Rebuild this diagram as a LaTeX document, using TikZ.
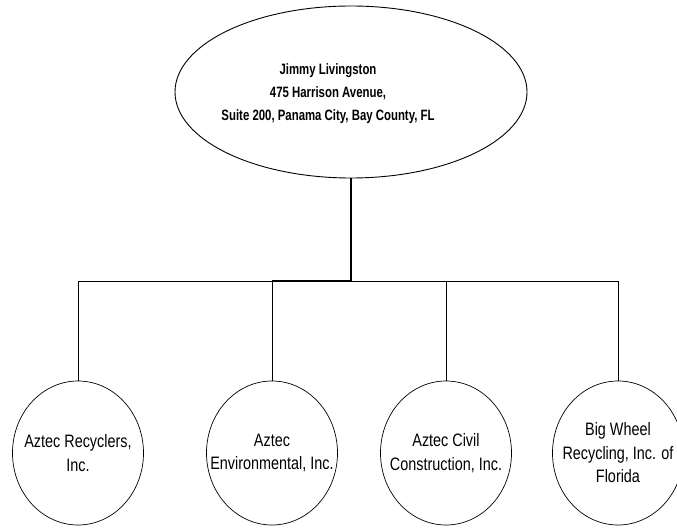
\documentclass[tikz,border=0pt]{standalone}
\usepackage{fontspec}
\setmainfont{Liberation Sans}
\newfontfamily\narrowfont[FakeStretch=0.8]{Liberation Sans}
\newfontfamily\narrowbold[FakeStretch=0.76]{Liberation Sans}
\usepackage{tikz}
\usetikzlibrary{shapes.geometric}

\tikzset{
    owner/.style={draw, ellipse, line width=0.9pt, minimum width=352pt, minimum height=172pt, inner sep=0pt},
    company/.style={draw, ellipse, line width=0.7pt, minimum width=131pt, minimum height=144pt, inner sep=0pt},
    ownertext/.style={align=center, font=\narrowbold\bfseries\fontsize{15}{23}\selectfont},
    companytext/.style={align=center, font=\narrowfont\fontsize{18}{23.5}\selectfont},
    trunk/.style={line width=1.6pt},
    branch/.style={line width=0.8pt}
}

\begin{document}
\begin{tikzpicture}[x=1pt, y=-1pt]
    \useasboundingbox (0,0) rectangle (677,529);

    \node[owner, label={[ownertext, xshift=-23pt, yshift=-2pt]center:{Jimmy Livingston\\475 Harrison Avenue,\\Suite 200, Panama City, Bay County, FL}}] (owner) at (351,92) {};

    \node[company, label={[companytext]center:{Aztec Recyclers,\\Inc.}}] (c1) at (78,453) {};
    \node[company, label={[companytext]center:{Aztec\\Environmental, Inc.}}] (c2) at (272,453) {};
    \node[company, label={[companytext]center:{Aztec Civil\\Construction, Inc.}}] (c3) at (446,453) {};
    \node[company, label={[companytext]center:{Big Wheel\\Recycling, Inc. of\\Florida}}] (c4) at (618,453) {};

    \coordinate (split) at (351,281);

    % connectors
    \foreach \c in {c1,c2,c3,c4}
        \draw[branch] (split) -| (\c.north);
    \draw[trunk] (owner.south) -- (split) -- (split -| c2.north);
\end{tikzpicture}
\end{document}
